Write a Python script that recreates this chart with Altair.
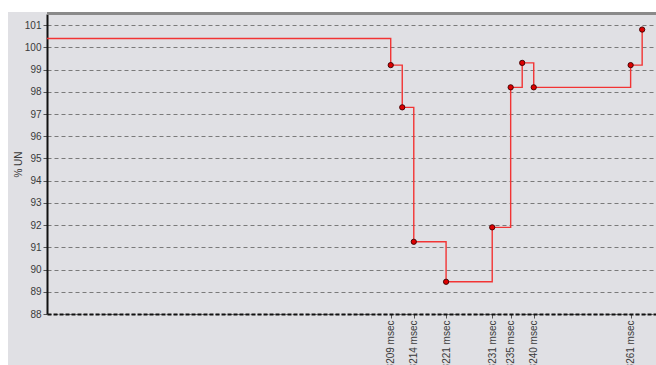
import altair as alt
import pandas as pd

# data
times = [3134.5, 3209, 3211.5, 3214, 3221, 3231, 3235, 3237.5, 3240, 3261, 3263.5]
values = [100.4, 99.2, 97.3, 91.25, 89.45, 91.9, 98.2, 99.3, 98.2, 99.2, 100.8]
marker = [False, True, True, True, True, True, True, True, True, True, True]
tick_times = [3209, 3214, 3221, 3231, 3235, 3240, 3261]
y_ticks = list(range(88, 102))

df = pd.DataFrame({"t": times, "v": values, "m": marker})

W, H = 609, 300
BG = "#e0e0e4"
FONT = "Liberation Sans"

x_enc = alt.X(
    "t:Q",
    scale=alt.Scale(domain=[3134.5, 3266.5], nice=False, zero=False),
    axis=alt.Axis(
        title=None,
        values=tick_times,
        labelExpr="format(datum.value, 'd') + ' msec'",
        labelAngle=-90,
        labelAlign="right",
        labelBaseline="middle",
        labelPadding=2,
        labelFontSize=10,
        labelFont=FONT,
        labelColor="#3a3a3a",
        tickSize=4,
        tickColor="#555555",
        grid=False,
        domainColor="#111111",
        domainWidth=2,
        domainDash=[4, 2],
        labelOverlap=False,
    ),
)
y_enc = alt.Y(
    "v:Q",
    scale=alt.Scale(domain=[88, 101.5], nice=False, zero=False),
    axis=alt.Axis(
        title="% UN",
        values=y_ticks,
        tickCount=14,
        format="d",
        labelFontSize=10,
        labelFont=FONT,
        labelColor="#3a3a3a",
        labelPadding=2,
        tickSize=4,
        tickColor="#555555",
        grid=True,
        gridColor="#7a7a7a",
        gridDash=[4, 3],
        gridWidth=1,
        domainColor="#111111",
        domainWidth=2,
        titleFont=FONT,
        titleFontSize=10,
        titleFontWeight="normal",
        titleColor="#3a3a3a",
        titleAngle=-90,
        titleX=-29,
        titleY=150,
        titleAlign="center",
        titleBaseline="middle",
        labelOverlap=False,
    ),
)

line = alt.Chart(df).mark_line(
    interpolate="step-after", color="#f23434", strokeWidth=1.4
).encode(x=x_enc, y=y_enc)

points = alt.Chart(df).transform_filter("datum.m").mark_point(
    shape="circle", filled=True, size=28, color="#dd0000",
    stroke="#3a0000", strokeWidth=0.9, opacity=1
).encode(x=x_enc, y=y_enc)

top_border = alt.Chart(df).mark_rule(color="#8a8a8a", strokeWidth=2).encode(
    x=alt.value(0), x2=alt.value(W + 5), y=alt.value(-0.5)
)

white_top = alt.Chart(df).mark_rect(color="white").encode(
    x=alt.value(-47), x2=alt.value(W + 5), y=alt.value(-14), y2=alt.value(-2)
)
white_left = alt.Chart(df).mark_rect(color="white").encode(
    x=alt.value(-47), x2=alt.value(-39), y=alt.value(-14), y2=alt.value(H + 60)
)

chart = alt.layer(line, points, top_border, white_top, white_left).properties(
    width=W, height=H,
    autosize=alt.AutoSizeParams(type="none"),
    padding={"left": 47, "top": 14, "right": 0, "bottom": 51},
    background=BG,
).configure_view(fill=BG, strokeWidth=0)

chart.save("out.html", embed_options={"renderer": "svg", "actions": False})
